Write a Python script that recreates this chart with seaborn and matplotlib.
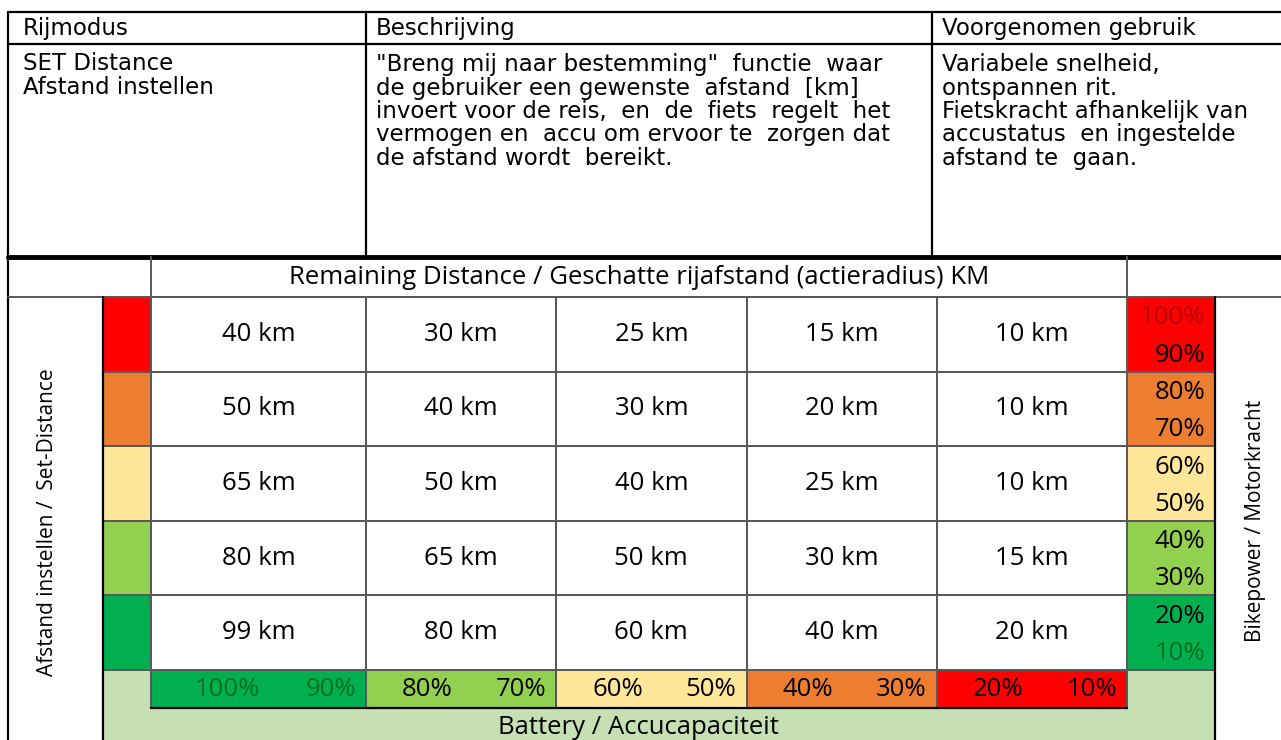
import numpy as np
import pandas as pd
import matplotlib
matplotlib.use("Agg")
import matplotlib.pyplot as plt
import seaborn as sns
from matplotlib.colors import ListedColormap
from matplotlib.patches import Rectangle

# ---------------- data ----------------
remaining_km = [
    [40, 30, 25, 15, 10],
    [50, 40, 30, 20, 10],
    [65, 50, 40, 25, 10],
    [80, 65, 50, 30, 15],
    [99, 80, 60, 40, 20],
]
level_colors = ["#FF0000", "#ED7D31", "#FFE699", "#92D050", "#00B050"]
power_top = ["100%", "80%", "60%", "40%", "20%"]
power_bottom = ["90%", "70%", "50%", "30%", "10%"]
power_top_colors = ["#B00000", "black", "black", "black", "black"]
power_bottom_colors = ["black", "black", "black", "black", "#00701F"]
battery_left = ["100%", "80%", "60%", "40%", "20%"]
battery_right = ["90%", "70%", "50%", "30%", "10%"]
battery_colors = level_colors[::-1]
battery_text_colors = ["#00701F", "black", "black", "black", "black"]

header_cols = ["Rijmodus", "Beschrijving", "Voorgenomen gebruik"]
mode_lines = ["SET Distance", "Afstand instellen"]
desc_lines = ['"Breng mij naar bestemming"  functie  waar',
              'de gebruiker een gewenste  afstand  [km]',
              'invoert voor de reis,  en  de  fiets  regelt  het',
              'vermogen en  accu om ervoor te  zorgen dat',
              'de afstand wordt  bereikt.']
use_lines = ["Variabele snelheid,", "ontspannen rit.", "Fietskracht afhankelijk van",
             "accustatus  en ingestelde", "afstand te  gaan."]
title_remaining = "Remaining Distance / Geschatte rijafstand (actieradius) KM"
title_battery = "Battery / Accucapaciteit"
title_left = "Afstand instellen /  Set-Distance"
title_right = "Bikepower / Motorkracht"

# ---------------- layout (pixels) ----------------
W, H = 1281, 740
col_edges = [151, 366, 557, 747, 936, 1127]
grid_top, grid_bot, batt_bot = 297, 670, 708
GRAY = "#595959"
TOP_FONT = "DejaVu Sans"
LOW_FONT = "Open Sans"
TOP_FS = 16.5
LOW_FS = 18.5
GRID_LW = 1.4

sns.set_theme(style="white")
plt.rcParams["font.family"] = [LOW_FONT, "DejaVu Sans"]
plt.rcParams["text.color"] = "black"

fig = plt.figure(figsize=(W / 100, H / 100), dpi=100)


def px_axes(x0, y0, x1, y1):
    ax = fig.add_axes([x0 / W, 1 - y1 / H, (x1 - x0) / W, (y1 - y0) / H])
    return ax


bg = px_axes(0, 0, W, H)
bg.set_xlim(0, W)
bg.set_ylim(H, 0)
bg.axis("off")
bg.add_patch(Rectangle((103, grid_bot), 1215 - 103, H - grid_bot, color="#C6E0B4", lw=0))


def clean(ax):
    ax.set_xticks([])
    ax.set_yticks([])
    ax.set_xlabel("")
    ax.set_ylabel("")
    for coll in ax.collections:
        coll.set_clip_on(False)


# remaining distance grid, first (wider) column separately
km = pd.DataFrame(remaining_km)
km_txt = km.astype(str) + " km"
white = ListedColormap(["white"])
for a, b in [(0, 1), (1, 5)]:
    ax = px_axes(col_edges[a], grid_top, col_edges[b], grid_bot)
    sns.heatmap(km.iloc[:, a:b] * 0, ax=ax, cmap=white, cbar=False,
                annot=km_txt.iloc[:, a:b].values, fmt="",
                annot_kws={"fontsize": LOW_FS, "color": "black", "family": LOW_FONT},
                linewidths=GRID_LW, linecolor=GRAY)
    clean(ax)

# battery row
batt = pd.DataFrame([np.arange(5)])
for a, b in [(0, 1), (1, 5)]:
    ax = px_axes(col_edges[a], grid_bot, col_edges[b], batt_bot)
    sns.heatmap(batt.iloc[:, a:b], ax=ax, cmap=ListedColormap(battery_colors[a:b]),
                cbar=False, linewidths=GRID_LW, linecolor=GRAY)
    clean(ax)
    for k in range(a, b):
        w = col_edges[k + 1] - col_edges[k]
        j = k - a
        pad = 44 if k == 0 else 36
        ax.text(j + pad / w, 0.5, battery_left[k], ha="left", va="center",
                fontsize=LOW_FS, color=battery_text_colors[k], family=LOW_FONT)
        ax.text(j + 1 - 10 / w, 0.5, battery_right[k], ha="right", va="center",
                fontsize=LOW_FS, color=battery_text_colors[k], family=LOW_FONT)

# set-distance colour column (left)
levels = pd.DataFrame(np.arange(5).reshape(5, 1))
ax = px_axes(103, grid_top, 151, grid_bot)
sns.heatmap(levels, ax=ax, cmap=ListedColormap(level_colors), cbar=False,
            linewidths=GRID_LW, linecolor=GRAY)
clean(ax)

# bikepower colour column (right)
ax = px_axes(1127, grid_top, 1215, grid_bot)
sns.heatmap(levels, ax=ax, cmap=ListedColormap(level_colors), cbar=False,
            linewidths=GRID_LW, linecolor=GRAY)
clean(ax)
rh = (grid_bot - grid_top) / 5
for i in range(5):
    ax.text(1 - 10 / 88, i + 21 / rh, power_top[i], ha="right", va="center",
            fontsize=LOW_FS, color=power_top_colors[i], family=LOW_FONT)
    ax.text(1 - 10 / 88, i + 58 / rh, power_bottom[i], ha="right", va="center",
            fontsize=LOW_FS, color=power_bottom_colors[i], family=LOW_FONT)

# overlay: table rules and free text
ov = px_axes(0, 0, W, H)
ov.set_xlim(0, W)
ov.set_ylim(H, 0)
ov.axis("off")
ov.patch.set_visible(False)

# upper table
ov.plot([8, W + 5], [12, 12], color="black", lw=1.6)
ov.plot([8, W + 5], [43.5, 43.5], color="black", lw=1.6)
ov.plot([8, W + 5], [257, 257], color="black", lw=3.5)
for x in [8, 366, 932]:
    ov.plot([x, x], [12, 257], color="black", lw=1.6)
# lower frame
ov.plot([8, 8], [257, H + 5], color="black", lw=1.6)
ov.plot([8, W + 5], [297, 297], color=GRAY, lw=1.4)
for x in [151, 1127]:
    ov.plot([x, x], [257, 297], color=GRAY, lw=1.4)
for x in [103, 1215]:
    ov.plot([x, x], [297, H + 5], color="black", lw=1.6)
ov.plot([151, 1127], [batt_bot, batt_bot], color="black", lw=1.6)

for x, t in zip([23, 376, 942], header_cols):
    ov.text(x, 28, t, ha="left", va="center", fontsize=TOP_FS, family=TOP_FONT)
line_y = [64, 88, 111.5, 135, 158.5]
for y, t in zip(line_y, mode_lines):
    ov.text(23, y, t, ha="left", va="center", fontsize=TOP_FS, family=TOP_FONT)
for y, t in zip(line_y, desc_lines):
    ov.text(376, y, t, ha="left", va="center", fontsize=TOP_FS, family=TOP_FONT)
for y, t in zip(line_y, use_lines):
    ov.text(942, y, t, ha="left", va="center", fontsize=TOP_FS, family=TOP_FONT)

ov.text(639, 277, title_remaining, ha="center", va="center", fontsize=LOW_FS, family=LOW_FONT)
ov.text(638, 727, title_battery, ha="center", va="center", fontsize=LOW_FS, family=LOW_FONT)
ov.text(48, 522, title_left, ha="center", va="center", rotation=90, fontsize=15, family=LOW_FONT)
ov.text(1256, 521, title_right, ha="center", va="center", rotation=90, fontsize=15, family=LOW_FONT)

fig.savefig("out.png", dpi=100)
